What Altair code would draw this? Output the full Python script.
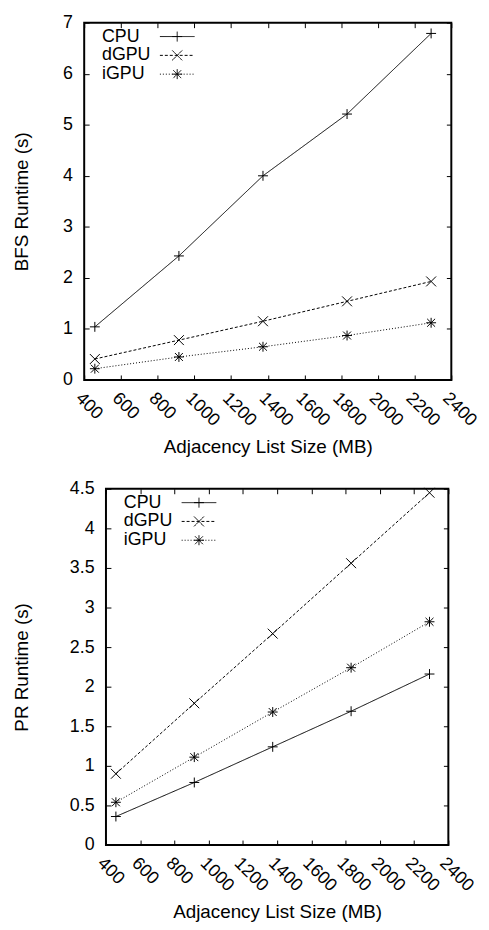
import altair as alt
import pandas as pd

# ---------------- data ----------------
sizes_mb = [458, 916, 1374, 1832, 2290]
series = ["CPU", "dGPU", "iGPU"]

bfs_cpu = [1.04, 2.43, 4.00, 5.21, 6.79]
bfs_dgpu = [0.41, 0.78, 1.15, 1.54, 1.93]
bfs_igpu = [0.22, 0.45, 0.65, 0.87, 1.12]

pr_cpu = [0.36, 0.79, 1.24, 1.69, 2.16]
pr_dgpu = [0.90, 1.79, 2.67, 3.56, 4.45]
pr_igpu = [0.54, 1.11, 1.68, 2.24, 2.82]

x_ticks = [400, 600, 800, 1000, 1200, 1400, 1600, 1800, 2000, 2200, 2400]
bfs_ticks = [0, 1, 2, 3, 4, 5, 6, 7]
pr_ticks = [0, 0.5, 1, 1.5, 2, 2.5, 3, 3.5, 4, 4.5]

FONT = "Liberation Sans"
LBL = 18
TTL = 19

marker_paths = [
    "M-1,0L1,0M0,-1L0,1",
    "M-1,-1L1,1M-1,1L1,-1",
    "M-1,0L1,0M0,-1L0,1M-0.8,-0.8L0.8,0.8M-0.8,0.8L0.8,-0.8",
]
dash_range = [[1, 0], [3, 2], [1, 2]]


def make_df(cpu, dgpu, igpu):
    rows = []
    for name, vals in zip(series, [cpu, dgpu, igpu]):
        for x, v in zip(sizes_mb, vals):
            rows.append({"size": x, "runtime": v, "series": name})
    return pd.DataFrame(rows)


def panel(df, ymax, yticks, ytitle, W, H, ytitle_pad, ylabel_fmt):
    xenc = alt.X(
        "size:Q",
        scale=alt.Scale(domain=[400, 2400], nice=False, zero=False),
        axis=alt.Axis(
            values=x_ticks, title="Adjacency List Size (MB)", format="d",
            domain=False, ticks=False, tickSize=0,
            grid=True, gridColor="black", gridWidth=1, gridOpacity=1,
            gridDash=[5, H - 10, 5, 2000],
            labelAngle=45, labelAlign="left", labelBaseline="top",
            labelPadding=9, labelOverlap=False, labelFlush=False,
            labelFont=FONT, labelFontSize=LBL, labelColor="black",
            titleFont=FONT, titleFontSize=TTL, titleFontWeight="normal",
            titleColor="black", titlePadding=8,
        ),
    )
    yenc = alt.Y(
        "runtime:Q",
        scale=alt.Scale(domain=[0, ymax], nice=False, zero=True),
        axis=alt.Axis(
            values=yticks, title=ytitle, format=ylabel_fmt,
            domain=False, ticks=False, tickSize=0,
            grid=True, gridColor="black", gridWidth=1, gridOpacity=1,
            gridDash=[5, W - 10, 5, 2000],
            labelPadding=12, labelFont=FONT, labelFontSize=LBL,
            labelColor="black", labelFlush=False,
            titleFont=FONT, titleFontSize=TTL, titleFontWeight="normal",
            titleColor="black", titlePadding=ytitle_pad,
        ),
    )
    legend_common = dict(
        title=None, orient="none", legendX=12, legendY=5,
        symbolSize=100, symbolStrokeWidth=1, symbolStrokeColor="black",
        symbolOffset=73, labelOffset=alt.ExprRef("-85"), padding=0,
        rowPadding=1,
        labelFont=FONT, labelFontSize=LBL, labelColor="black",
        labelLimit=300,
    )
    base = alt.Chart(df)
    lines = base.mark_line(color="black", strokeWidth=1).encode(
        x=xenc,
        y=yenc,
        strokeDash=alt.StrokeDash(
            "series:N",
            scale=alt.Scale(domain=series, range=dash_range),
            legend=alt.Legend(symbolType="M-3.5,0L3.5,0", **legend_common),
        ),
    )
    points = base.transform_calculate(series_m="datum.series").mark_point(
        filled=False, color="black", strokeWidth=1, size=100, opacity=1
    ).encode(
        x=xenc,
        y=yenc,
        shape=alt.Shape(
            "series_m:N",
            scale=alt.Scale(range=marker_paths),
            legend=alt.Legend(symbolFillColor="transparent", labelOpacity=0,
                              symbolDash=[1, 0], **legend_common),
        ),
    )
    return alt.layer(lines, points).properties(width=W, height=H)


def spacer():
    return alt.Chart(pd.DataFrame({"v": [0]})).mark_point(
        size=0, opacity=0
    ).encode(x=alt.value(0), y=alt.value(0)).properties(
        width=1, height=1, view=alt.ViewBackground(stroke="transparent")
    )


top = panel(make_df(bfs_cpu, bfs_dgpu, bfs_igpu), 7, bfs_ticks,
            "BFS Runtime (s)", 371, 361, 31, "d")
bottom = panel(make_df(pr_cpu, pr_dgpu, pr_igpu), 4.5, pr_ticks,
               "PR Runtime (s)", 346, 360, 38.5, "")

row_top = alt.hconcat(spacer(), top, spacing=0).resolve_scale(
    strokeDash="independent", shape="independent")
row_bottom = alt.hconcat(spacer(), bottom, spacing=0).resolve_scale(
    strokeDash="independent", shape="independent")

chart = alt.vconcat(row_top, row_bottom, spacing=21).resolve_scale(
    strokeDash="independent", shape="independent"
).properties(
    padding={"left": 0, "top": 0, "right": 0, "bottom": 0}
).configure_view(stroke="black", strokeWidth=2)

chart.save("out.html", embed_options={"renderer": "svg", "actions": False})
